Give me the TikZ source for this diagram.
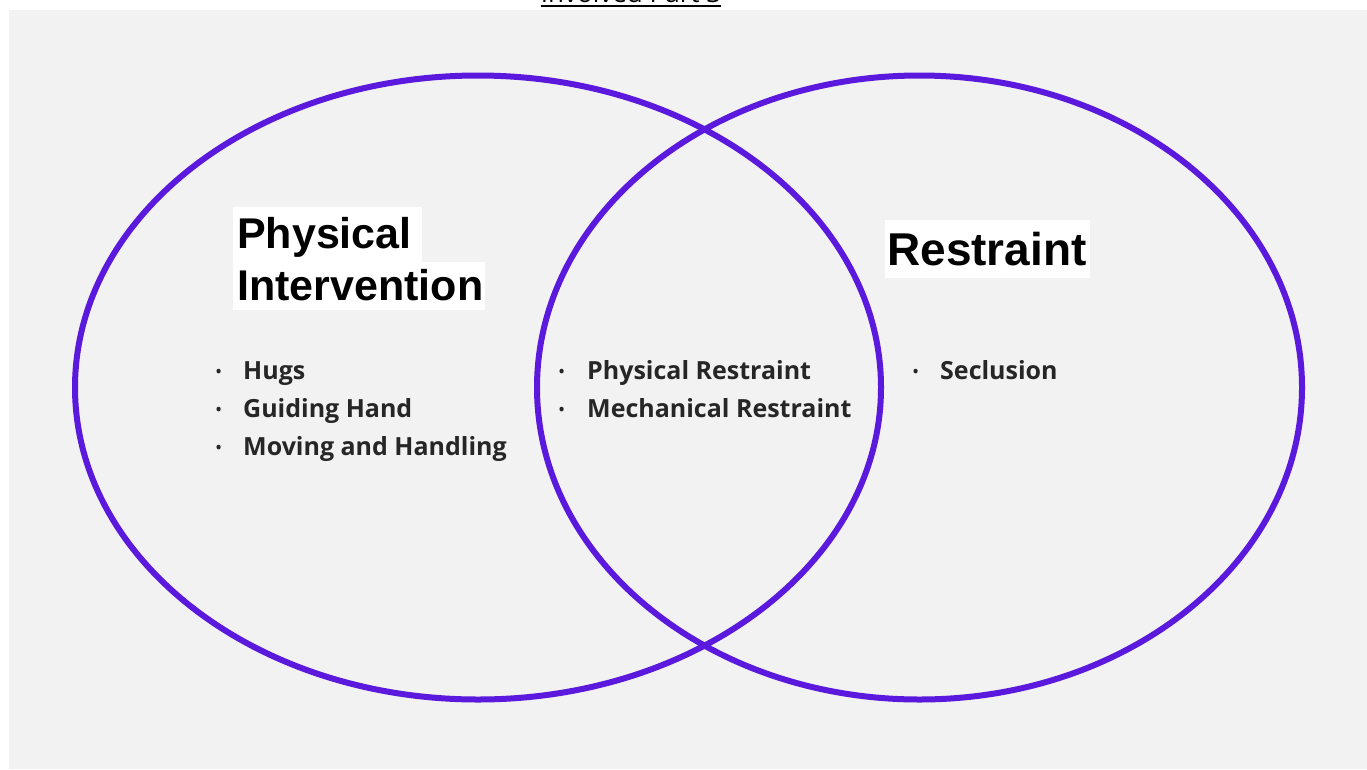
\documentclass[tikz,border=0pt]{standalone}
\usepackage{fontspec}
\setmainfont{Liberation Sans}
\newfontfamily\osans{Open Sans}
\definecolor{vpurple}{RGB}{90,25,220}
\definecolor{bggrey}{RGB}{242,242,242}
\tikzset{
  ring/.style={draw=vpurple, line width=6pt},
  heading/.style={font=\fontsize{43}{48}\selectfont\bfseries, inner sep=0pt, anchor=base west, text=black},
  item/.style={font=\osans\fontsize{25}{30}\selectfont\bfseries, inner sep=0pt, anchor=base west, text=black!85},
  dot/.style={font=\osans\fontsize{19}{22}\selectfont, inner sep=0pt, anchor=base west, text=black!85},
  hilite/.style={fill=white, draw=none}
}
\begin{document}
\begin{tikzpicture}[x=1pt,y=-1pt]
\useasboundingbox (0,0) rectangle (1367,769);
\clip (0,0) rectangle (1367,769);
\fill[white] (0,0) rectangle (1367,769);
\fill[bggrey] (9,10) rectangle (1367,769);
% cut-off title at top
\node[font=\osans\fontsize{26}{30}\selectfont, inner sep=0pt, anchor=base] (title) at (631,2.5) {Involved Part 3};
\draw[line width=2.6pt] ([yshift=-3.5pt]title.base west) -- ([yshift=-3.5pt]title.base east);
% ellipses
\draw[ring] (478,387.5) ellipse [x radius=403, y radius=312];
\draw[ring] (919.5,387.5) ellipse [x radius=382.5, y radius=312];
% heading highlights
\fill[hilite] (233,207) rectangle (422,262);
\fill[hilite] (233,262) rectangle (485,310);
\fill[hilite] (885,220) rectangle (1090,278);
% headings
\node[heading] (h1a) at (237,248) {Physical};
\node[heading] (h1b) at (237,300) {Intervention};
\node[heading, font=\fontsize{46}{52}\selectfont\bfseries] (h2) at (887,265) {Restraint};
% left items
\node[dot] (d1) at (215,378) {•};
\node[item] (i1) at (243,379) {Hugs};
\node[dot] (d2) at (215,416) {•};
\node[item] (i2) at (243,417) {Guiding Hand};
\node[dot] (d3) at (215,454) {•};
\node[item] (i3) at (243,455) {Moving and Handling};
% middle items
\node[dot] (d4) at (558,378) {•};
\node[item] (i4) at (587,379) {Physical Restraint};
\node[dot] (d5) at (558,416) {•};
\node[item] (i5) at (587,417) {Mechanical Restraint};
% right items
\node[dot] (d6) at (912,378) {•};
\node[item] (i6) at (940,379) {Seclusion};
\end{tikzpicture}
\end{document}
